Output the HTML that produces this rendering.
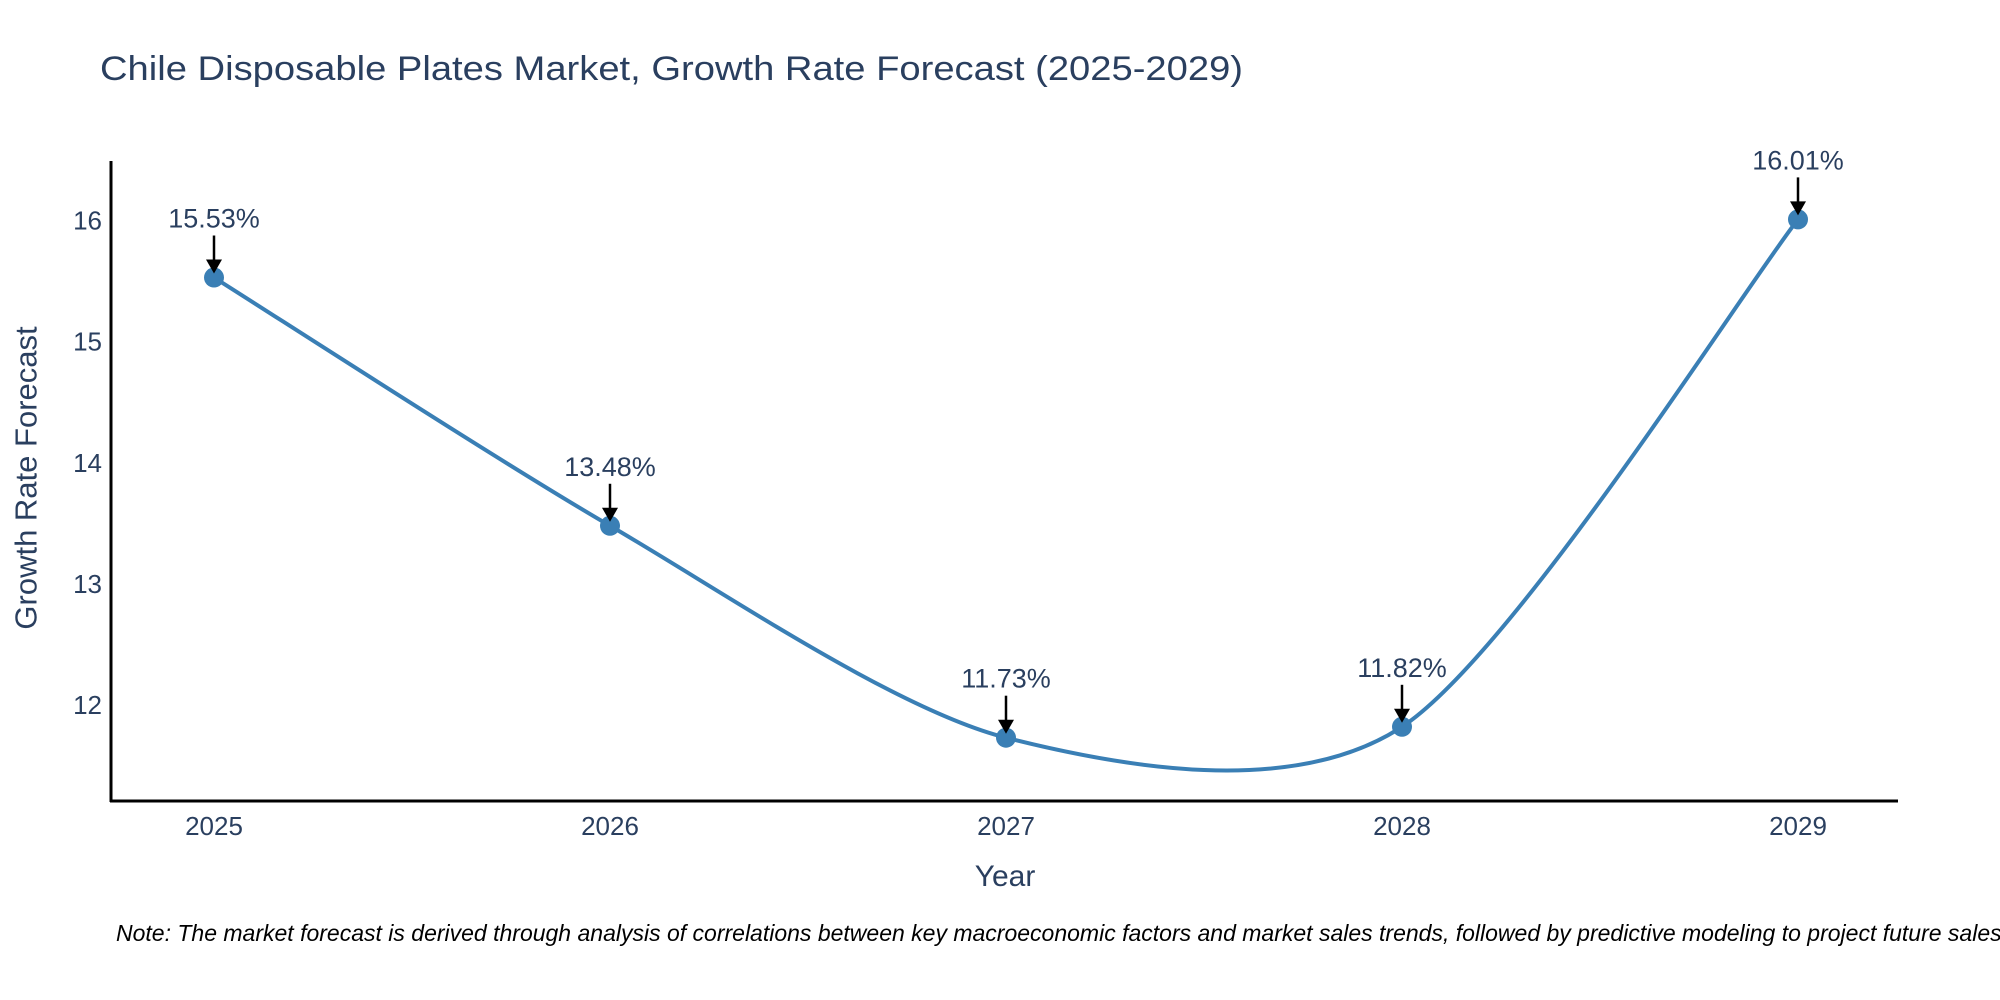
<!DOCTYPE html>
<html><head><meta charset="utf-8"><style>
html,body{margin:0;padding:0;background:#fff;}
svg{display:block;font-family:"Liberation Sans",Arial,sans-serif;}
</style></head><body>
<svg id="chart" width="2000" height="1000" viewBox="0 0 2000 1000">
<text x="100" y="80" font-size="34" fill="#2a3f5f" textLength="1143" lengthAdjust="spacingAndGlyphs">Chile Disposable Plates Market, Growth Rate Forecast (2025-2029)</text>
<g id="yticks"></g>
<g id="xticks"></g>
<path id="line" fill="none" stroke="#3a7fb5" stroke-width="4"></path>
<g id="points"></g>
<line x1="111" y1="161" x2="111" y2="802" stroke="#000" stroke-width="3"/>
<line x1="110" y1="801" x2="1898" y2="801" stroke="#000" stroke-width="3"/>
<text x="26" y="478" font-size="31" fill="#2a3f5f" text-anchor="middle" transform="rotate(-90 26 478)" dominant-baseline="central">Growth Rate Forecast</text>
<text x="1005" y="886" font-size="30" fill="#2a3f5f" text-anchor="middle">Year</text>
<text x="116" y="941" font-size="23" font-style="italic" fill="#000">Note: The market forecast is derived through analysis of correlations between key macroeconomic factors and market sales trends, followed by predictive modeling to project future sales.</text>
</svg>
<script>
const years = [2025, 2026, 2027, 2028, 2029];
const values = [15.53, 13.48, 11.73, 11.82, 16.01];
const labels = ["15.53%", "13.48%", "11.73%", "11.82%", "16.01%"];
const yTicks = [12, 13, 14, 15, 16];

const NS = "http://www.w3.org/2000/svg";
function xScale(v){ return 214 + (v - 2025) * 396; }
function yScale(v){ return 705 - (v - 12) * 121.1; }
function mk(tag, attrs, parent){
  const e = document.createElementNS(NS, tag);
  for (const k in attrs) e.setAttribute(k, attrs[k]);
  parent.appendChild(e);
  return e;
}
const yg = document.getElementById('yticks');
yTicks.forEach(t => {
  const e = mk('text', {x: 102, y: yScale(t) + 9, 'font-size': 26, fill: '#2a3f5f', 'text-anchor': 'end'}, yg);
  
  
  e.textContent = t;
});
const xg = document.getElementById('xticks');
years.forEach(y => {
  const e = mk('text', {x: xScale(y), y: 835, 'font-size': 26, fill: '#2a3f5f', 'text-anchor': 'middle'}, xg);
  
  
  e.textContent = y;
});
const pts = years.map((y, i) => [xScale(y), yScale(values[i])]);
let d = `M${pts[0][0]},${pts[0][1]}`;
const k = 0.14;
for (let i = 0; i < pts.length - 1; i++) {
  const p0 = pts[Math.max(0, i - 1)], p1 = pts[i], p2 = pts[i + 1], p3 = pts[Math.min(pts.length - 1, i + 2)];
  const c1 = [p1[0] + (p2[0] - p0[0]) * k, p1[1] + (p2[1] - p0[1]) * k];
  const c2 = [p2[0] - (p3[0] - p1[0]) * k, p2[1] - (p3[1] - p1[1]) * k];
  d += ` C${c1[0]},${c1[1]} ${c2[0]},${c2[1]} ${p2[0]},${p2[1]}`;
}
document.getElementById('line').setAttribute('d', d);
const pg = document.getElementById('points');
pts.forEach((p, i) => {
  const c = mk('circle', {cx: p[0], cy: p[1], r: 10, fill: '#3a7fb5'}, pg);
  
  
  const l = mk('line', {x1: p[0], y1: p[1] - 42, x2: p[0], y2: p[1] - 16, stroke: '#000', 'stroke-width': 2.5}, pg);
  
  
  const h = mk('polygon', {points: `${p[0]-8},${p[1]-18} ${p[0]+8},${p[1]-18} ${p[0]},${p[1]-4}`, fill: '#000'}, pg);
  
  
  const t = mk('text', {x: p[0], y: p[1] - 50, 'font-size': 27, fill: '#2a3f5f', 'text-anchor': 'middle'}, pg);
  
  
  t.textContent = labels[i];
});
</script>
</body></html>
